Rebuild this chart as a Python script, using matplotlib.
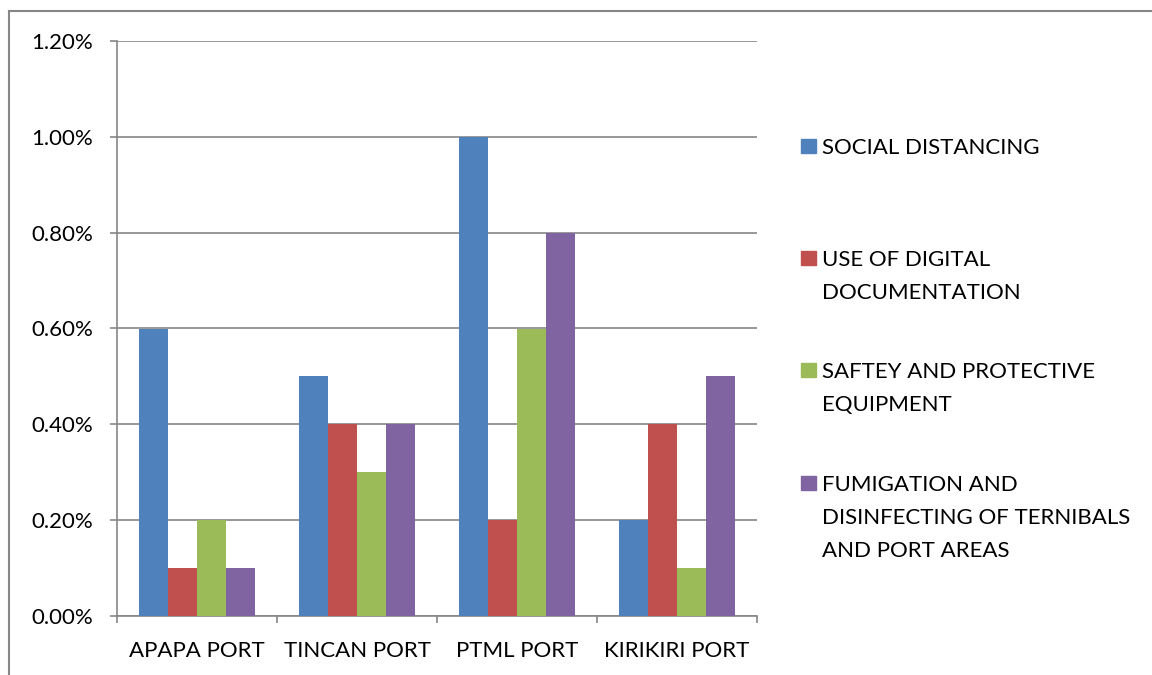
import matplotlib
matplotlib.use('Agg')
import matplotlib.pyplot as plt
from matplotlib.lines import Line2D
from matplotlib.patches import Rectangle
from matplotlib.ticker import FuncFormatter, MultipleLocator
import numpy as np

plt.rcParams['font.family'] = ['Lato', 'DejaVu Sans']

# 港口与各项措施数据（百分比）
ports = ['APAPA PORT', 'TINCAN PORT', 'PTML PORT', 'KIRIKIRI PORT']
series_names = ['SOCIAL DISTANCING',
                'USE OF DIGITAL\nDOCUMENTATION',
                'SAFTEY AND PROTECTIVE\nEQUIPMENT',
                'FUMIGATION AND\nDISINFECTING OF TERNIBALS\nAND PORT AREAS']
social_distancing = [0.6, 0.5, 1.0, 0.2]
digital_documentation = [0.1, 0.4, 0.2, 0.4]
protective_equipment = [0.2, 0.3, 0.6, 0.1]
fumigation = [0.1, 0.4, 0.8, 0.5]
colors = ['#4F81BD', '#C0504D', '#9BBB59', '#8064A2']

values = [social_distancing, digital_documentation, protective_equipment, fumigation]
grey = '#868686'
fs = 16

fig = plt.figure(figsize=(11.52, 6.75), dpi=100)
ax = fig.add_axes([117 / 1152, 1 - 616 / 675, 640 / 1152, 575 / 675])

x = np.arange(len(ports))
w = 1 / 5.5
for i, vals in enumerate(values):
    ax.bar(x - 1.5 * w + i * w, vals, width=w, color=colors[i], zorder=3)

ax.set_xlim(-0.5, len(ports) - 0.5)
ax.set_ylim(0, 1.2)
ax.yaxis.set_major_locator(MultipleLocator(0.2))
ax.yaxis.set_major_formatter(FuncFormatter(lambda v, p: f'{v:.2f}%'))
ax.grid(axis='y', color=grey, linewidth=1.2, zorder=0)

ax.set_xticks(x)
ax.set_xticklabels(ports)
ax.set_xticks(np.arange(len(ports) + 1) - 0.5, minor=True)
ax.tick_params(axis='x', which='major', length=0, pad=18, labelsize=fs)
ax.tick_params(axis='x', which='minor', length=5, color=grey, width=1.2, direction='out')
ax.tick_params(axis='y', length=5, color=grey, width=1.2, pad=12, labelsize=fs)

for s in ['top', 'right']:
    ax.spines[s].set_visible(False)
for s in ['left', 'bottom']:
    ax.spines[s].set_color(grey)
    ax.spines[s].set_linewidth(1.2)
ax.set_axisbelow(True)

# 手动绘制图例（首行基线位置，像素；行距33像素）
legend_base = [154, 266, 378, 491]
for name, c, ly in zip(series_names, colors, legend_base):
    fig.patches.append(Rectangle((801 / 1152, 1 - (ly - 1) / 675), 15 / 1152, 14 / 675,
                                 transform=fig.transFigure, color=c))
    for j, line in enumerate(name.split('\n')):
        fig.text(822 / 1152, 1 - (ly + 33 * j) / 675, line, fontsize=fs,
                 va='baseline', ha='left')

# 外框
fig.add_artist(Line2D([9 / 1152, 1], [1 - 11 / 675, 1 - 11 / 675], color=grey, linewidth=1.5,
                      transform=fig.transFigure))
fig.add_artist(Line2D([9 / 1152, 9 / 1152], [0, 1 - 11 / 675], color=grey, linewidth=1.5,
                      transform=fig.transFigure))

fig.savefig('out.png', dpi=100)
